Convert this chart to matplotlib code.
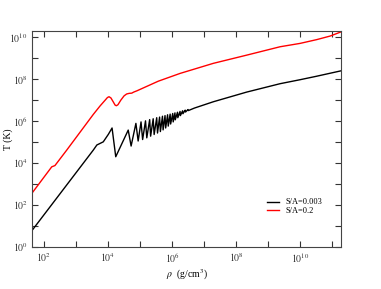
import numpy as np
import matplotlib.pyplot as plt
from matplotlib.ticker import FixedLocator, FuncFormatter

# =========================
# data (log10 values)
# =========================
# S/A = 0.003
log_rho_black = [1.625, 3.54, 3.65, 3.85, 4.01, 4.125,
                 4.24, 4.63, 4.72, 4.87, 4.94, 5.03, 5.08, 5.17, 5.21,
                 5.30, 5.33, 5.41, 5.44, 5.52, 5.545, 5.61, 5.635,
                 5.70, 5.72, 5.78, 5.80, 5.86, 5.88, 5.94, 5.955,
                 6.02, 6.035, 6.09, 6.10, 6.17, 6.18, 6.25, 6.26,
                 6.33, 6.34, 6.41, 6.42, 6.50, 6.51,
                 6.70, 7.29, 8.33, 9.375, 10.0, 10.5, 11.3]
log_T_black = [0.79, 4.62, 4.86, 5.01, 5.37, 5.67,
               4.30, 5.57, 4.81, 5.89, 5.05, 5.96, 5.12, 6.01, 5.20,
               6.07, 5.28, 6.11, 5.36, 6.16, 5.43, 6.19, 5.50,
               6.23, 5.58, 6.26, 5.67, 6.30, 5.76, 6.33, 5.86,
               6.36, 5.96, 6.39, 6.06, 6.42, 6.16, 6.46, 6.26,
               6.49, 6.35, 6.52, 6.43, 6.55, 6.50,
               6.62, 6.92, 7.38, 7.78, 7.97, 8.13, 8.40]

# S/A = 0.2
log_rho_red = [1.625, 2.24, 2.34, 2.71, 3.54, 3.75, 3.90, 3.98, 4.03,
               4.09, 4.16, 4.22, 4.26, 4.31, 4.40, 4.50, 4.58, 4.66,
               4.74, 4.80, 4.90, 5.57, 6.25, 7.29, 8.33, 9.375, 10.0,
               10.52, 10.94, 11.3]
log_T_red = [2.57, 3.82, 3.88, 4.62, 6.32, 6.72, 6.98, 7.12, 7.16,
             7.10, 6.92, 6.76, 6.73, 6.78, 7.00, 7.20, 7.29, 7.32,
             7.33, 7.38, 7.44, 7.90, 8.27, 8.75, 9.14, 9.54, 9.70,
             9.88, 10.05, 10.26]

labels = ["S/A=0.003", "S/A=0.2"]
x_decades = list(range(2, 12))
y_decades = list(range(0, 11))

# =========================
# figure
# =========================
plt.rcParams["font.family"] = ["Liberation Serif", "DejaVu Serif"]
plt.rcParams["mathtext.fontset"] = "stix"

fig = plt.figure(figsize=(3.81, 2.89), dpi=100)
ax = fig.add_axes([0.084, 0.1453, 0.811, 0.7474])

ax.plot(10 ** np.array(log_rho_black), 10 ** np.array(log_T_black),
        color="black", lw=1.0, label=labels[0])
ax.plot(10 ** np.array(log_rho_red), 10 ** np.array(log_T_red),
        color="red", lw=1.0, label=labels[1])

ax.set_xscale("log")
ax.set_yscale("log")
ax.set_xlim(42, 1.9e11)
ax.set_ylim(1, 1.95e10)

ax.xaxis.set_major_locator(FixedLocator([10.0 ** e for e in x_decades]))
ax.yaxis.set_major_locator(FixedLocator([10.0 ** e for e in y_decades]))
ax.xaxis.set_minor_locator(plt.NullLocator())
ax.yaxis.set_minor_locator(plt.NullLocator())


def even_pow(v, pos):
    e = int(round(np.log10(v)))
    if e % 2:
        return ""
    return r"$10^{%d}$" % e


ax.xaxis.set_major_formatter(FuncFormatter(even_pow))
ax.yaxis.set_major_formatter(FuncFormatter(even_pow))
ax.tick_params(which="both", direction="in", top=True, right=True,
               length=4, width=0.8, labelsize=7, colors="#333333", pad=3)
for s in ax.spines.values():
    s.set_color("#444444")
    s.set_linewidth(0.8)

ax.set_xlabel(r"$\rho$  (g/cm$^3$)", fontsize=7, labelpad=2)
ax.set_ylabel("T (K)", fontsize=7)
ax.yaxis.set_label_coords(-0.062, 0.5)

ax.legend(loc="lower right", bbox_to_anchor=(0.96, 0.12), frameon=False,
          fontsize=6, handlelength=1.5, handletextpad=0.8,
          labelspacing=0.1, borderpad=0.2)

fig.savefig("out.png", dpi=100)
